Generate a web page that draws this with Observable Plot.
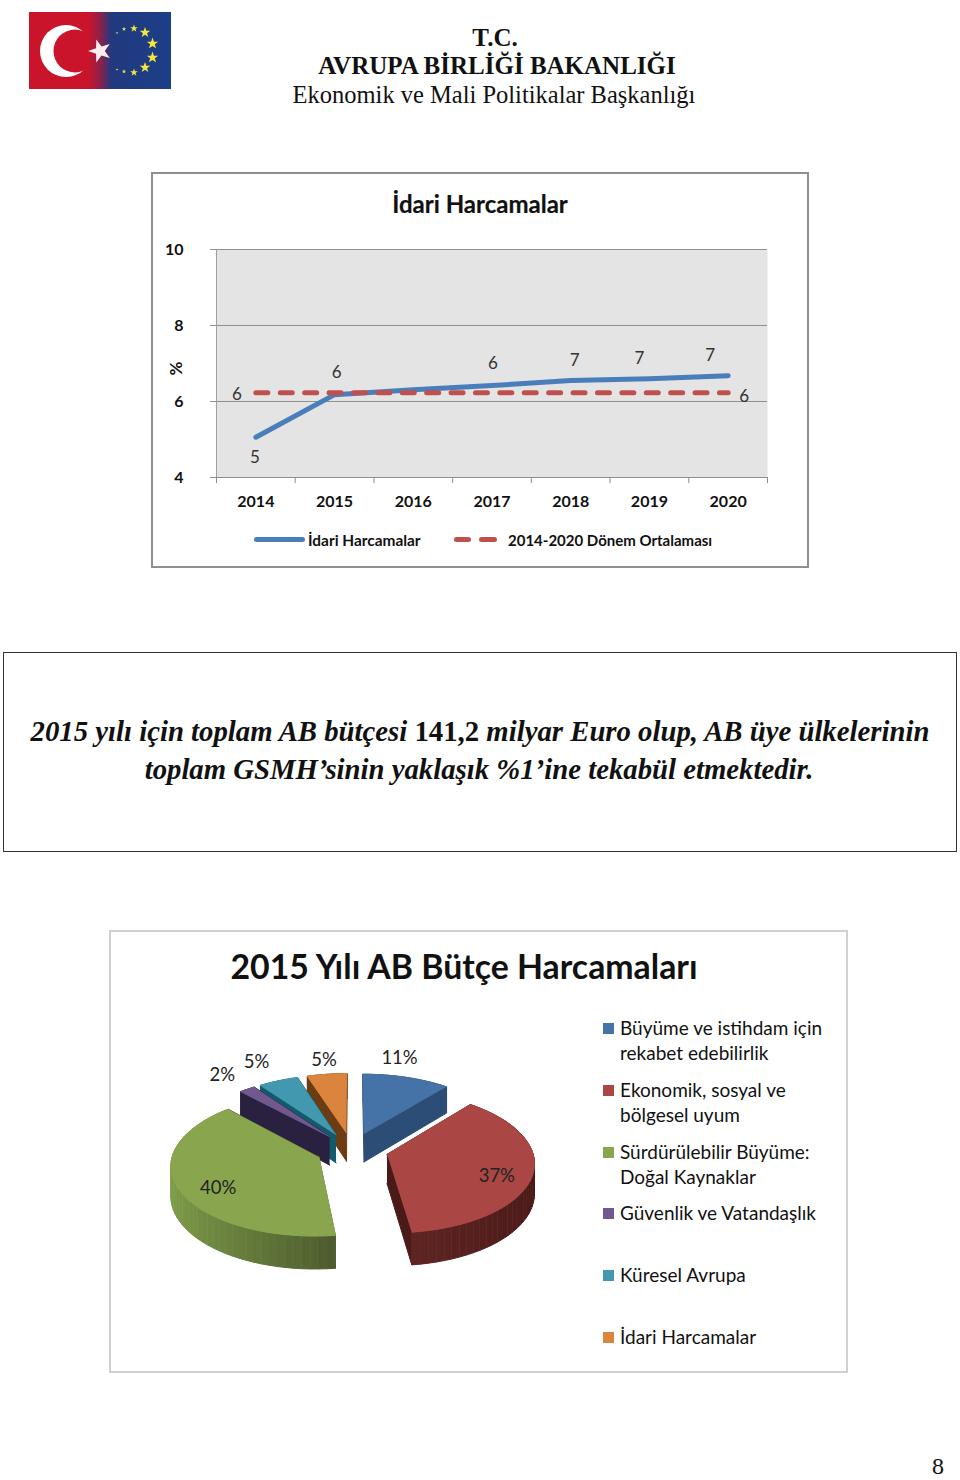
<!DOCTYPE html>
<html lang="tr">
<head>
<meta charset="utf-8">
<title>2015 Yılı AB Bütçe Harcamaları</title>
<script src="https://cdn.jsdelivr.net/npm/d3@7"></script>
<script src="https://cdn.jsdelivr.net/npm/@observablehq/plot@0.6"></script>
<style>
  html, body { margin: 0; padding: 0; background: #fff; }
  #page { position: relative; width: 960px; height: 1480px; overflow: hidden; background: #fff; }
  .abs { position: absolute; white-space: nowrap; }
  .serif { font-family: "Liberation Serif", serif; color: #111; }
  .sans { font-family: Lato, sans-serif; color: #111; }
  .cx { transform: translate(-50%, -50%); }
  .ly { transform: translateY(-50%); }
  .box { position: absolute; box-sizing: border-box; }
  #page svg { display: block; }
</style>
</head>
<body>
<div id="page">
  <svg class="abs" style="left:29px;top:12px" width="142" height="77" viewBox="29 12 142 77" aria-label="logo">
    <defs>
      <linearGradient id="flag" x1="0" x2="1" y1="0" y2="0">
        <stop offset="0.42" stop-color="#c9142c"/><stop offset="0.5" stop-color="#8f2048"/>
        <stop offset="0.58" stop-color="#21397f"/><stop offset="1" stop-color="#1b3f88"/>
      </linearGradient>
      <mask id="cres"><rect x="0" y="0" width="200" height="100" fill="#000"/><circle cx="66" cy="51" r="26" fill="#fff"/><circle cx="75" cy="51" r="21.500" fill="#000"/></mask>
      <polygon id="st" points="0,-1 .24,-.31 .95,-.31 .38,.12 .59,.81 0,.4 -.59,.81 -.38,.12 -.95,-.31 -.24,-.31"/>
    </defs>
    <rect x="29" y="12" width="142" height="77" fill="url(#flag)"/>
    <rect x="0" y="0" width="200" height="100" fill="#fff" mask="url(#cres)"/>
    <use href="#st" transform="translate(100,51) rotate(-18) scale(12)" fill="#fbeef0"/>
    <g fill="#f6e63c">
      <use href="#st" transform="translate(134,28.500) scale(4)"/>
      <use href="#st" transform="translate(145,32.500) scale(5.500)"/>
      <use href="#st" transform="translate(152.500,43.500) scale(6)"/>
      <use href="#st" transform="translate(152.500,57.500) scale(6)"/>
      <use href="#st" transform="translate(145,67.500) scale(5.500)"/>
      <use href="#st" transform="translate(134,72.500) scale(4)"/>
      <use href="#st" transform="translate(124,71.500) scale(2.200)"/>
      <use href="#st" transform="translate(117,69.500) scale(1.300)"/>
      <use href="#st" transform="translate(124,29) scale(2.200)"/>
      <use href="#st" transform="translate(117,33) scale(1.300)"/>
    </g>
  </svg>
  <div class="abs serif cx" style="left:495px;top:38px;font-size:25px;font-weight:700">T.C.</div>
  <div class="abs serif cx" style="left:497px;top:66px;font-size:25px;font-weight:700">AVRUPA BİRLİĞİ BAKANLIĞI</div>
  <div class="abs serif cx" style="left:494px;top:94.500px;font-size:24.500px">Ekonomik ve Mali Politikalar Başkanlığı</div>

  <div class="box" style="left:151px;top:172px;width:658px;height:396px;border:2px solid #8f8f8f"></div>
  <div id="line"></div>
  <div class="abs sans cx" style="left:480px;top:203px;font-size:24px;font-weight:700;-webkit-text-stroke:.2px #111">İdari Harcamalar</div>
  <div id="lineLegend"></div>

  <div class="box" style="left:3px;top:652px;width:954px;height:200px;border:1px solid #333"></div>
  <div class="abs serif cx" style="left:480px;top:731px;font-size:28.750px;font-weight:700;font-style:italic">2015 yılı için toplam AB bütçesi <span style="font-style:normal">141,2</span> milyar Euro olup, AB üye ülkelerinin</div>
  <div class="abs serif cx" style="left:479px;top:769px;font-size:28.750px;font-weight:700;font-style:italic">toplam GSMH’sinin yaklaşık %1’ine tekabül etmektedir.</div>

  <div class="box" style="left:109px;top:930px;width:739px;height:443px;border:2px solid #d0d0d0"></div>
  <div id="pie"></div>
  <div class="abs sans cx" style="left:464px;top:966px;font-size:33.800px;font-weight:700">2015 Yılı AB Bütçe Harcamaları</div>
  <div id="pieLegend"></div>

  <div class="abs serif cx" style="left:938px;top:1466px;font-size:24px;line-height:20px">8</div>
</div>

<script>
// ---------- line chart data ----------
const years = [2014, 2015, 2016, 2017, 2018, 2019, 2020];
const spending = [5.06, 6.18, 6.31, 6.42, 6.55, 6.6, 6.68];
const periodAverage = [6.23, 6.23, 6.23, 6.23, 6.23, 6.23, 6.23];
const spendingLabelYears = [2014, 2015, 2017, 2018, 2019, 2020];
const averageLabelYears = [2014, 2020];
const yTicks = [4, 6, 8, 10];
const lineLegendNames = ["İdari Harcamalar", "2014-2020 Dönem Ortalaması"];

// ---------- pie chart data ----------
const pieNames = [
  ["Büyüme ve istihdam için", "rekabet edebilirlik"],
  ["Ekonomik, sosyal ve", "bölgesel uyum"],
  ["Sürdürülebilir Büyüme:", "Doğal Kaynaklar"],
  ["Güvenlik ve Vatandaşlık"],
  ["Küresel Avrupa"],
  ["İdari Harcamalar"]
];
const pieShares = [11, 37, 40, 2, 5, 5];
const topColors = ["#4572a7", "#aa4643", "#89a54e", "#71588f", "#4198af", "#db843d"];
const wallFrom = ["#2c4d75", "#4a1a18", "#4d5b2f", "#2a2140", "#135a6b", "#6c3c14"];
const wallTo = ["#2c4d75", "#5e2422", "#7f9d49", "#2a2140", "#135a6b", "#6c3c14"];

// ---------- line chart ----------
const font = "Lato, sans-serif";
const spendingRows = years.map((year, i) => ({year, value: spending[i]}));
const averageRows = years.map((year, i) => ({year, value: periodAverage[i]}));
const edges = d3.range(years.length + 1).map(i => years[0] - 0.5 + i);
const spendingDx = {2014: -1, 2015: 2, 2017: 1, 2018: 4, 2019: -10, 2020: -18};
const spendingDy = {2014: 20, 2015: -22, 2017: -22, 2018: -20, 2019: -20, 2020: -20};
const averageDx = {2014: -19, 2020: 16};
const averageDy = {2014: 1.5, 2020: 3.5};
const valueText = d => String(Math.round(d.value));

const lineMarks = [
  Plot.frame({fill: "#e4e4e4", stroke: null}),
  Plot.ruleY(yTicks, {stroke: "#8f8f8f", strokeWidth: 1}),
  Plot.ruleX([edges[0]], {stroke: "#a0a0a0", strokeWidth: 1}),
  Plot.axisX({ticks: edges, tickSize: 6, tickFormat: () => "", stroke: "#8f8f8f", label: null}),
  Plot.axisX({ticks: years, tickSize: 0, tickPadding: 18, tickFormat: d => String(d), fontSize: 16, fontWeight: 700, label: null, stroke: "none"}),
  Plot.axisY({ticks: yTicks, tickSize: 6, tickPadding: 27, tickFormat: d => String(d), stroke: "#8f8f8f", fontSize: 16, fontWeight: 700, label: null}),
  Plot.text(["%"], {text: d => d, y: () => 6.87, frameAnchor: "left", textAnchor: "middle", dx: -40, rotate: -90, fontSize: 17, fontWeight: 700}),
  Plot.line(spendingRows, {x: "year", y: "value", stroke: "#4a7ebb", strokeWidth: 5, strokeLinecap: "round"}),
  Plot.line(averageRows, {x: "year", y: "value", stroke: "#c0504d", strokeWidth: 5, strokeLinecap: "round", strokeDasharray: "12,12.4"})
];
spendingRows.filter(d => spendingLabelYears.includes(d.year)).forEach(d => lineMarks.push(
  Plot.text([d], {x: "year", y: "value", text: valueText, fontSize: 17, fill: "#333", dx: spendingDx[d.year], dy: spendingDy[d.year]})
));
averageRows.filter(d => averageLabelYears.includes(d.year)).forEach(d => lineMarks.push(
  Plot.text([d], {x: "year", y: "value", text: valueText, fontSize: 17, fill: "#333", dx: averageDx[d.year], dy: averageDy[d.year]})
));

const lineChart = Plot.plot({
  width: 656, height: 394,
  marginLeft: 64, marginRight: 41, marginTop: 76, marginBottom: 90,
  style: {background: "transparent", fontFamily: font, color: "#111", overflow: "visible"},
  x: {domain: [edges[0], edges[edges.length - 1]]},
  y: {domain: [4, 10]},
  marks: lineMarks
});
lineChart.style.position = "absolute";
lineChart.style.left = "152px";
lineChart.style.top = "173px";
document.getElementById("line").append(lineChart);

// line legend (HTML, below the plot area)
const ll = document.getElementById("lineLegend");
ll.innerHTML = `
  <div class="abs" style="left:254px;top:537px;width:51px;height:5px;border-radius:3px;background:#4a7ebb"></div>
  <div class="abs sans ly" style="left:308px;top:540px;font-size:15.400px;font-weight:700">${lineLegendNames[0]}</div>
  <div class="abs" style="left:454px;top:537px;width:17px;height:5px;border-radius:3px;background:#c0504d"></div>
  <div class="abs" style="left:479px;top:537px;width:18px;height:5px;border-radius:3px;background:#c0504d"></div>
  <div class="abs sans ly" style="left:508px;top:540px;font-size:15px;font-weight:700">${lineLegendNames[1]}</div>`;

// ---------- exploded 3D pie, built from the shares ----------
const explode = 0.25, perspective = 0.107, depth = 29 / 69;
const rad = deg => deg * Math.PI / 180;
const total = d3.sum(pieShares);
let acc = 0;
const slices = pieShares.map((share, i) => {
  const a0 = acc / total * 360; acc += share;
  const a1 = acc / total * 360, mid = (a0 + a1) / 2;
  return {i, share, a0, a1, mid, tipU: explode * Math.sin(rad(mid)), tipV: explode * Math.cos(rad(mid))};
});
const project = (U, V, lowered) => {
  const s = 1 / (1 + perspective * V);
  return {X: U * s, Y: V * s - (lowered ? depth * s : 0)};
};
const rimAt = (sl, a, k = 1) => [sl.tipU + k * Math.sin(rad(a)), sl.tipV + k * Math.cos(rad(a))];
const arcAngles = (sl) => {
  const n = Math.max(2, Math.ceil((sl.a1 - sl.a0) / 3));
  return d3.range(n + 1).map(j => sl.a0 + (sl.a1 - sl.a0) * j / n);
};
const faces = [];
const addFace = (id, fill, pts) => pts.forEach(p => faces.push({id, fill, X: p.X, Y: p.Y}));
for (const idx of [5, 4, 3, 0, 2, 1]) {
  const sl = slices[idx], angles = arcAngles(sl);
  const tip = [sl.tipU, sl.tipV];
  const shade = d3.interpolateRgb(wallFrom[idx], wallTo[idx]);
  // radial faces
  for (const a of [sl.a0, sl.a1]) {
    const r = rimAt(sl, a);
    addFace(`r${idx}-${a}`, wallFrom[idx], [project(...tip), project(...r), project(...r, true), project(...tip, true)]);
  }
  // outer wall as strips, shaded across its width
  const us = angles.map(a => rimAt(sl, a)[0]);
  const [uMin, uMax] = d3.extent(us);
  angles.slice(1).forEach((a, j) => {
    const p = rimAt(sl, angles[j]), q = rimAt(sl, a);
    const t = (uMax - (p[0] + q[0]) / 2) / (uMax - uMin || 1);
    addFace(`w${idx}-${j}`, shade(t), [project(...p), project(...q), project(...q, true), project(...p, true)]);
  });
  // top
  addFace(`t${idx}`, topColors[idx], [project(...tip), ...angles.map(a => project(...rimAt(sl, a)))]);
}
const labelDx = [-7, -36, 40, -25, -22, -3];
const labelDy = [-19, 2, 0, -14, -19, -14];
const labelRows = slices.map(sl => ({...project(...rimAt({tipU: 0, tipV: 0}, sl.mid, 1 + explode)), text: sl.share + "%", i: sl.i}));

const pieCx = 351.5 - 109, pieCy = 1149 - 930, pieRx = 145, pieRy = 69;
const pieMarks = [
  Plot.line(faces, {x: "X", y: "Y", z: "id", fill: d => d.fill, stroke: d => d.fill, strokeWidth: 1, strokeLinejoin: "round"})
];
labelRows.forEach((d, i) => pieMarks.push(
  Plot.text([d], {x: "X", y: "Y", text: "text", fontSize: 18.5, fill: "#222", dx: labelDx[i], dy: labelDy[i]})
));
const pieChart = Plot.plot({
  width: 739, height: 443,
  margin: 0,
  style: {background: "transparent", fontFamily: font, overflow: "visible"},
  x: {domain: [-1, 1], range: [pieCx - pieRx, pieCx + pieRx], axis: null},
  y: {domain: [-1, 1], range: [pieCy + pieRy, pieCy - pieRy], axis: null},
  color: {type: "identity"},
  marks: pieMarks
});
pieChart.style.position = "absolute";
pieChart.style.left = "109px";
pieChart.style.top = "930px";
document.getElementById("pie").append(pieChart);

// pie legend
const legendY = [1028, 1090, 1152, 1213, 1275, 1337];
const pl = document.getElementById("pieLegend");
pl.innerHTML = pieNames.map((lines, i) => `
  <div class="abs" style="left:603px;top:${legendY[i] - 5.5}px;width:11px;height:11px;background:${topColors[i]}"></div>
  ${lines.map((t, k) => `<div class="abs sans ly" style="left:620px;top:${legendY[i] - 1 + k * 25}px;font-size:19px">${t}</div>`).join("")}`).join("");
</script>
</body>
</html>
